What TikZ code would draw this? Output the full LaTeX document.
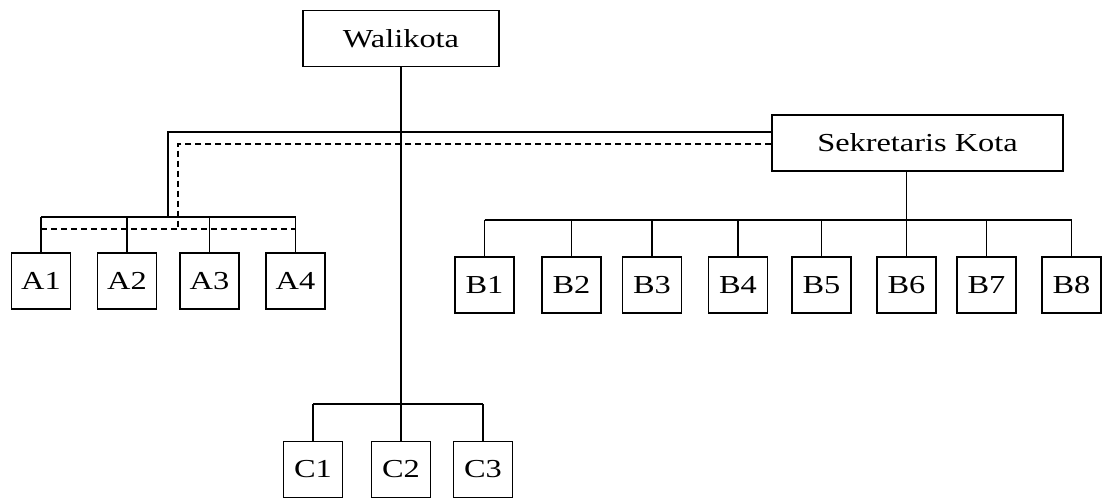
\documentclass[tikz,border=0pt]{standalone}
\usepackage{fontspec}
\setmainfont{Liberation Serif}
\begin{document}
\begin{tikzpicture}[x=1bp,y=-1bp,
  unit/.style={draw, line width=1.1bp, inner sep=0pt, minimum width=59bp, minimum height=56bp,
    font=\fontsize{26}{30}\selectfont},
  head/.style={unit, minimum height=56bp},
  link/.style={line width=1.1bp},
  aux/.style={line width=1.1bp, dash pattern=on 6bp off 4bp}]
\useasboundingbox (0,0) rectangle (1105,500);
\newcommand{\wide}[1]{\scalebox{1.25}[1]{#1}}

% top-level offices
\node[head, minimum width=196bp] (wk) at (401,38.5) {\wide{Walikota}};
\node[head, minimum width=291bp] (sk) at (917.5,143) {\wide{Sekretaris Kota}};

% group A
\node[unit] (a1) at (41,281) {\wide{A1}};
\node[unit] (a2) at (127,281) {\wide{A2}};
\node[unit] (a3) at (209.5,281) {\wide{A3}};
\node[unit] (a4) at (295.5,281) {\wide{A4}};

% group B
\node[unit] (b1) at (484.5,285) {\wide{B1}};
\node[unit] (b2) at (571.5,285) {\wide{B2}};
\node[unit] (b3) at (652,285) {\wide{B3}};
\node[unit] (b4) at (738,285) {\wide{B4}};
\node[unit] (b5) at (821.5,285) {\wide{B5}};
\node[unit] (b6) at (906.5,285) {\wide{B6}};
\node[unit] (b7) at (986.5,285) {\wide{B7}};
\node[unit] (b8) at (1071.5,285) {\wide{B8}};

% group C
\node[unit] (c1) at (313,469.5) {\wide{C1}};
\node[unit] (c2) at (401,469.5) {\wide{C2}};
\node[unit] (c3) at (483,469.5) {\wide{C3}};

% bends of the lines towards group A
\coordinate (sj) at (168,132);
\coordinate (dj) at (178,144);

% main trunk from the mayor down to group C
\draw[link] (wk.south) -- (c2.north);

% solid line: mayor / secretary to group A
\draw[link] (sk.west |- sj) -- (sj) -- (sj |- 0,217);
\draw[link] (a1.north |- 0,217) -- (a4.north |- 0,217);
\foreach \n in {a1,a2,a3,a4} \draw[link] (\n.north |- 0,217) -- (\n.north);

% dashed line: secretary coordination with group A
\draw[aux] (sk.west |- dj) -- (dj) -- (dj |- 0,229);
\draw[aux] (a1.north |- 0,229) -- (a4.north |- 0,229);

% secretary to group B
\draw[link] (sk.south -| b6) -- (b6.north);
\draw[link] (b1.north |- 0,220) -- (b8.north |- 0,220);
\foreach \n in {b1,b2,b3,b4,b5,b7,b8} \draw[link] (\n.north |- 0,220) -- (\n.north);

% group C bus
\draw[link] (c1.north |- 0,404) -- (c3.north |- 0,404);
\foreach \n in {c1,c3} \draw[link] (\n.north |- 0,404) -- (\n.north);
\end{tikzpicture}
\end{document}
